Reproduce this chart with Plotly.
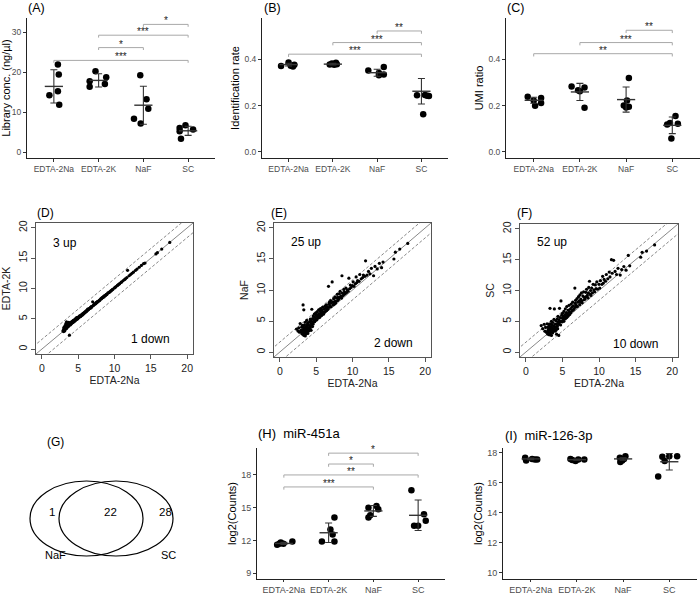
import plotly.graph_objects as go

W, H = 700, 595
FONT = "Liberation Sans, Arial, Helvetica, sans-serif"
TICK_GREY = "#4d4d4d"
AXIS_COL = "#222222"
BRACKET_COL = "#a8a8a8"

groups = ["EDTA-2Na", "EDTA-2K", "NaF", "SC"]

# ---- (A) library concentration (points as plotted, jittered) ----
a_x = [1.09, 1.11, 1.09, 0.90, 1.12, 1.93, 1.80, 2.17, 2.14, 1.80,
       2.93, 3.07, 3.11, 2.79, 2.94, 3.94, 3.81, 4.11, 3.81, 3.84]
a_y = [21.9, 19.4, 15.2, 14.2, 11.8, 20.2, 17.7, 18.7, 17.0, 16.3,
       19.2, 13.2, 10.8, 8.3, 7.1, 6.7, 6.0, 5.6, 5.2, 3.3]
a_mean = [16.4, 17.9, 11.7, 5.3]
a_sd = [4.15, 1.65, 4.75, 1.15]
a_sig = [(3, 4, 31.9, "*"), (2, 4, 29.2, "***"), (2, 3, 26.1, "*"), (1, 4, 22.9, "***")]

# ---- (B) identification rate ----
b_x = [0.83, 1.00, 1.05, 1.10, 1.13, 1.93, 1.98, 2.03, 2.07, 2.09,
       2.80, 3.15, 3.04, 3.04, 3.15, 3.90, 4.08, 4.13, 4.17, 4.04]
b_y = [0.371, 0.386, 0.372, 0.369, 0.376, 0.377, 0.382, 0.376, 0.385, 0.379,
       0.352, 0.367, 0.341, 0.331, 0.334, 0.245, 0.246, 0.243, 0.242, 0.163]
b_mean = [0.377, 0.379, 0.342, 0.262]
b_sd = [0.006, 0.004, 0.015, 0.055]
b_sig = [(3, 4, 0.522, "**"), (2, 4, 0.472, "***"), (1, 4, 0.422, "***")]

# ---- (C) UMI ratio ----
c_x = [0.87, 1.00, 1.03, 1.16, 1.16, 1.82, 1.96, 2.00, 2.10, 2.10,
       3.06, 3.02, 2.95, 3.00, 3.06, 3.89, 3.95, 4.07, 4.12, 3.98]
c_y = [0.238, 0.222, 0.199, 0.233, 0.211, 0.283, 0.266, 0.262, 0.278, 0.191,
       0.319, 0.222, 0.201, 0.192, 0.195, 0.119, 0.125, 0.155, 0.122, 0.058]
c_mean = [0.223, 0.259, 0.226, 0.115]
c_sd = [0.013, 0.037, 0.054, 0.036]
c_sig = [(3, 4, 0.525, "**"), (2, 4, 0.472, "***"), (1, 4, 0.424, "**")]

# ---- (D)-(F) log2 expression, EDTA-2Na vs other tubes ----
sc_x = [2.1, 2.3, 2.5, 2.6, 2.7, 2.8, 2.9, 3.0, 3.0, 3.05,
        3.1, 3.1, 3.15, 3.2, 3.2, 3.25, 3.3, 3.3, 3.3, 3.4,
        3.4, 3.45, 3.5, 3.5, 3.5, 3.55, 3.6, 3.6, 3.65, 3.7,
        3.7, 3.7, 3.8, 3.8, 3.85, 3.9, 3.9, 4.0, 4.0,
        4.1, 4.1, 4.15, 4.2, 4.2, 4.3, 4.3, 4.35, 4.4, 4.4,
        4.5, 4.5, 4.55, 4.6, 4.6, 4.7, 4.75, 4.8, 4.8, 4.9,
        4.95, 5.0, 5.0, 5.1, 5.15, 5.2, 5.2, 5.3, 5.35, 5.4,
        5.4, 5.5, 5.55, 5.6, 5.6, 5.7, 5.75, 5.8, 5.8, 5.9,
        5.95, 6.0,
        6.1, 6.15, 6.2, 6.3, 6.3, 6.4, 6.45, 6.5, 6.6, 6.7,
        6.75, 6.8, 6.8, 6.9, 7.0, 7.05, 7.1, 7.2, 7.3, 7.35,
        7.4, 7.5, 7.5, 7.6, 7.65, 7.7, 7.8, 7.9, 7.95, 8.0,
        8.1, 8.2, 8.25, 8.3, 8.4, 8.5, 8.55, 8.6, 8.7, 8.8,
        8.85, 8.9, 9.0, 9.1, 9.2, 9.3, 9.4, 9.5, 9.6, 9.7,
        9.8, 10.0,
        10.1, 10.2, 10.4, 10.5, 10.6, 10.7, 10.9, 11.0, 11.2, 11.4,
        11.5, 11.7, 11.8, 12.0,
        12.2, 12.4, 12.6, 12.9, 13.1, 13.4, 13.7, 14.0, 14.2,
        15.7, 15.9, 16.5, 17.6]

d_y = [None, None, None, None, None, None, 3.0, 3.3, 2.9, 3.6,
       3.2, 3.5, 3.0, 3.6, 3.9, 3.3, 3.5, 3.8, 4.2, 4.5,
       3.4, 3.7, 3.9, 3.6, 4.1, 3.8, 3.7, 4.0, 3.9, 3.8,
       4.1, 4.4, 2.3, 4.0, 4.1, 4.0, 4.3, 4.1, 4.4,
       4.3, 4.5, 4.3, 4.4, 4.6, 4.4, 4.7, 4.5, 4.6, 4.8,
       4.7, 4.6, 4.8, 4.7, 5.0, 4.9, 5.1, 4.9, 5.2, 5.1,
       5.0, 5.2, 5.3, 5.2, 5.4, 5.3, 5.5, 5.5, 5.4, 5.6,
       5.5, 5.7, 5.6, 5.8, 5.7, 5.9, 5.8, 6.0, 5.9, 6.1,
       6.0, 6.2,
       6.3, 6.2, 6.4, 6.4, 6.6, 6.5, 6.6, 6.7, 6.7, 6.9,
       6.8, 7.0, 6.9, 7.0, 7.8, 7.2, 7.2, 7.4, 7.4, 7.5,
       7.5, 7.7, 7.6, 7.7, 7.8, 7.9, 7.9, 8.0, 8.1, 8.1,
       8.3, 8.3, 8.4, 8.5, 8.5, 8.7, 8.6, 8.8, 8.8, 8.9,
       9.0, 9.0, 9.1, 9.3, 9.3, 9.4, 9.5, 9.6, 9.7, 9.8,
       9.9, 10.1,
       10.2, 10.3, 10.5, 10.6, 10.7, 10.8, 11.0, 11.1, 11.3, 11.5,
       11.6, 11.8, 13.0, 12.1,
       12.3, 12.5, 12.7, 13.0, 13.2, 13.5, 13.8, 14.1, 14.2,
       15.7, 15.9, 16.5, 17.6]

e_y = [None, 3.7, 3.4, 3.9, 3.2, 4.6, 3.5, 3.1, 4.0, 3.3,
       2.9, 4.3, 3.6, 7.6, 3.0, 4.1, 6.8, 3.4, 2.7, 3.8,
       4.4, 3.1, 2.6, 3.6, 4.8, 3.3, 4.0, 2.9, 3.7, 4.2,
       3.2, 5.1, 3.5, 4.5, 3.0, 3.9, 4.7, 3.4, 4.3,
       3.6, 4.9, 4.2, 5.3, 3.9, 4.6, 3.5, 5.0, 6.9, 4.4,
       5.4, 4.1, 4.8, 5.8, 4.5, 5.2, 6.1, 4.9, 5.6, 5.1,
       6.3, 5.4, 5.9, 5.2, 6.5, 5.7, 6.0, 5.5, 6.8, 5.8,
       6.2, 5.6, 6.6, 6.0, 7.0, 6.3, 5.9, 6.7, 6.1, 7.2,
       6.4, 6.1,
       6.9, 6.4, 7.4, 6.6, 7.1, 7.6, 6.7, 7.3, 6.9, 10.6,
       7.7, 7.2, 8.0, 7.5, 8.3, 7.3, 7.9, 11.3, 8.1, 7.6,
       8.6, 8.0, 7.7, 8.9, 8.2, 7.9, 8.7, 9.3, 8.3, 8.8,
       8.5, 9.4, 8.8, 9.8, 9.0, 8.7, 12.3, 9.5, 9.1, 10.1,
       9.3, 9.7, 9.4, 10.3, 9.6, 10.0, 9.8, 11.9, 10.2, 10.8,
       10.4, 10.7,
       11.3, 10.6, 11.0, 12.1, 11.2, 11.5, 11.4, 12.5, 11.8, 12.0,
       12.4, 12.2, 14.7, 12.4,
       13.0, 12.6, 13.5, 12.3, 13.8, 13.4, 14.3, 13.6, 14.5,
       15.0, 16.1, 16.6, 17.5]

f_y = [4.3, 3.8, 4.5, 3.4, 4.0, 3.2, 4.6, 3.5, 2.9, 4.1,
       3.2, 3.8, 4.5, 2.8, 3.6, 4.2, 3.0, 3.9, 7.1, 3.3,
       4.6, 3.6, 2.7, 4.0, 5.0, 3.4, 3.8, 4.4, 3.1, 3.7,
       4.8, 3.3, 4.2, 3.6, 5.3, 7.0, 3.9, 3.4, 4.5,
       4.0, 5.1, 3.6, 4.6, 2.9, 5.4, 4.2, 3.8, 4.9, 5.8,
       2.7, 4.5, 5.2, 7.1, 4.8, 5.6, 4.4, 8.3, 5.0, 6.0,
       4.9, 5.5, 6.3, 5.2, 5.8, 6.6, 5.0, 5.7, 6.1, 5.4,
       7.0, 5.9, 6.4, 5.6, 7.4, 6.2, 5.8, 6.8, 6.0, 7.6,
       6.5, 6.1,
       7.0, 6.4, 7.8, 6.7, 7.3, 8.1, 6.8, 7.5, 7.0, 10.4,
       7.9, 7.3, 8.4, 7.6, 8.7, 7.4, 8.1, 9.0, 8.3, 7.7,
       9.3, 8.1, 8.6, 9.6, 8.3, 8.0, 9.1, 9.8, 8.5, 8.9,
       8.6, 9.7, 9.0, 10.2, 9.2, 8.8, 9.6, 10.5, 11.5, 9.4,
       10.0, 9.2, 10.4, 9.6, 11.0, 10.1, 9.8, 10.9, 10.3, 11.4,
       10.2, 11.0,
       10.4, 11.6, 11.0, 12.3, 11.2, 11.8, 11.5, 12.6, 11.9, 13.0,
       12.2, 15.0, 12.8, 14.9,
       13.1, 12.6, 13.6, 12.5, 13.4, 13.9, 13.3, 15.7, 14.0,
       15.4, 16.2, 16.4, 17.4]

up_counts = [3, 25, 52]
down_counts = [1, 2, 10]
fc_line = 1.6  # dashed fold-change guides

# ---- (G) overlap of changed miRNAs ----
venn_sets = ["NaF", "SC"]
venn_counts = [1, 22, 28]  # NaF only, both, SC only

# ---- (H) miR-451a ----
h_x = [0.85, 0.93, 0.99, 1.19, 0.90, 1.85, 2.13, 2.04, 2.09, 2.13,
       2.89, 3.07, 3.11, 2.93, 2.89, 3.85, 4.13, 4.17, 3.91, 4.00]
h_y = [11.6, 11.8, 11.7, 11.9, 11.7, 11.9, 11.9, 13.0, 12.55, 14.1,
       15.0, 15.15, 14.85, 14.3, 14.1, 16.6, 14.4, 13.8, 13.35, 13.35]
h_mean = [11.72, 12.7, 14.7, 14.3]
h_sd = [0.1, 0.9, 0.5, 1.4]
h_sig = [(2, 4, 20.0, "*"), (2, 3, 19.0, "*"), (1, 4, 18.0, "**"), (1, 3, 16.9, "***")]

# ---- (I) miR-126-3p ----
i_x = [0.88, 0.90, 1.03, 1.09, 1.14, 1.86, 1.90, 1.97, 2.03, 2.16,
       2.93, 2.98, 3.02, 2.94, 3.05, 3.85, 3.90, 4.00, 4.17, 3.76]
i_y = [17.67, 17.5, 17.6, 17.56, 17.56, 17.6, 17.52, 17.46, 17.56, 17.56,
       17.67, 17.5, 17.6, 17.4, 17.78, 17.74, 17.46, 17.78, 17.78, 16.43]
i_mean = [17.6, 17.55, 17.6, 17.41]
i_sd = [0.05, 0.04, 0.08, 0.55]


def xdom(left, right):
    return [left / W, right / W]


def ydom(top, bottom):
    return [1 - bottom / H, 1 - top / H]


def names(n):
    s = "" if n == 1 else str(n)
    return "x" + s, "y" + s, "xaxis" + s, "yaxis" + s


fig = go.Figure()


def dot_panel(n, box, xs, ys, means, sds, sig, yrange, yticks, ylabel, drop, fmt=None, fs=8.5, tl=3):
    xa, ya, xk, yk = names(n)
    fig.add_trace(go.Scatter(x=xs, y=ys, mode="markers", xaxis=xa, yaxis=ya,
                             marker=dict(size=6.5, color="black"), hoverinfo="skip"))
    fig.add_trace(go.Scatter(x=[1, 2, 3, 4], y=means, mode="markers", xaxis=xa, yaxis=ya,
                             marker=dict(symbol="line-ew", size=13, line=dict(width=1.4, color="#333333")),
                             error_y=dict(type="data", array=sds, width=3.5, thickness=1.1, color="#333333"),
                             hoverinfo="skip"))
    for i, j, h, lab in sig:
        fig.add_trace(go.Scatter(x=[i, i, j, j], y=[h - drop, h, h, h - drop], mode="lines",
                                 xaxis=xa, yaxis=ya, line=dict(color=BRACKET_COL, width=1), hoverinfo="skip"))
        fig.add_annotation(x=(i + j) / 2, y=h, xref=xa, yref=ya, text=lab, showarrow=False,
                           yanchor="bottom", yshift=-4, font=dict(size=10, color="#222222"))
    fig.update_layout(**{
        xk: dict(domain=xdom(box[0], box[1]), anchor=ya, range=[0.4, 4.6], tickmode="array",
                 tickvals=[1, 2, 3, 4], ticktext=groups, showline=True, linecolor=AXIS_COL, linewidth=1,
                 ticks="outside", ticklen=tl, tickcolor="#333333", tickfont=dict(size=fs, color=TICK_GREY),
                 showgrid=False, zeroline=False, automargin=False),
        yk: dict(domain=ydom(box[2], box[3]), anchor=xa, range=yrange, tickmode="array", tickvals=yticks,
                 tickformat=fmt, showline=True, linecolor=AXIS_COL, linewidth=1, ticks="outside", ticklen=3,
                 tickcolor="#333333", tickfont=dict(size=fs, color=TICK_GREY), showgrid=False, zeroline=False,
                 automargin=False,
                 title=dict(text=ylabel, font=dict(size=11, color="black"), standoff=2)),
    })


def scatter_panel(n, box, ys, ylabel, up, down, up_at, down_at):
    xa, ya, xk, yk = names(n)
    lim = [-0.8, 20.8]
    ext = [lim[0] - 3, lim[1] + 3]
    for off, dash in [(0, "solid"), (fc_line, "3px,2px"), (-fc_line, "3px,2px")]:
        fig.add_trace(go.Scatter(x=ext, y=[ext[0] + off, ext[1] + off], mode="lines", xaxis=xa, yaxis=ya,
                                 line=dict(color="#7a7a7a", width=0.9, dash=dash), hoverinfo="skip"))
    fig.add_trace(go.Scatter(x=sc_x, y=ys, mode="markers", xaxis=xa, yaxis=ya,
                             marker=dict(size=3.2, color="black"), hoverinfo="skip"))
    fig.add_annotation(x=up_at[0], y=up_at[1], xref=xa, yref=ya, text=f"{up} up", showarrow=False,
                       font=dict(size=12, color="black"))
    fig.add_annotation(x=down_at[0], y=down_at[1], xref=xa, yref=ya, text=f"{down} down", showarrow=False,
                       font=dict(size=12, color="black"))
    common = dict(range=lim, tickmode="array", tickvals=[0, 5, 10, 15, 20], showline=True, mirror=True,
                  linecolor="#555555", linewidth=1, ticks="outside", ticklen=4, tickcolor="#555555",
                  tickfont=dict(size=10.5, color="#222222"), showgrid=False, zeroline=False, automargin=False)
    fig.update_layout(**{
        xk: dict(domain=xdom(box[0], box[1]), anchor=ya,
                 title=dict(text="EDTA-2Na", font=dict(size=10.5, color="#222222"), standoff=4), **common),
        yk: dict(domain=ydom(box[2], box[3]), anchor=xa, tickangle=-90,
                 title=dict(text=ylabel, font=dict(size=10.5, color="#222222"), standoff=4), **common),
    })


dot_panel(1, (27, 215, 18, 158), a_x, a_y, a_mean, a_sd, a_sig, [-1.5, 33.5], [0, 10, 20, 30],
          "Library conc. (ng/µl)", 0.6)
dot_panel(2, (262, 448, 18, 158), b_x, b_y, b_mean, b_sd, b_sig, [-0.026, 0.578], [0.0, 0.2, 0.4],
          "Identification rate", 0.012, fmt=".1f")
dot_panel(3, (506, 700, 18, 158), c_x, c_y, c_mean, c_sd, c_sig, [-0.026, 0.578], [0.0, 0.2, 0.4],
          "UMI ratio", 0.012, fmt=".1f")

scatter_panel(4, (36, 193, 223, 354), d_y, "EDTA-2K", up_counts[0], down_counts[0], (3.2, 17.5), (14.9, 1.7))
scatter_panel(5, (274, 431, 223, 357), e_y, "NaF", up_counts[1], down_counts[1], (3.6, 17.8), (15.6, 1.4))
scatter_panel(6, (520, 678, 224, 357), f_y, "SC", up_counts[2], down_counts[2], (3.6, 17.9), (15.0, 1.3))

dot_panel(7, (257, 445, 448, 579), h_x, h_y, h_mean, h_sd, h_sig, [8.46, 20.47], [9, 12, 15, 18],
          "log2(Counts)", 0.25, fs=9, tl=2)
dot_panel(8, (503, 697, 448, 579), i_x, i_y, i_mean, i_sd, [], [9.56, 18.33], [10, 12, 14, 16, 18],
          "log2(Counts)", 0.2, fs=9, tl=2)

# venn diagram for (G)
for x0, x1 in [(30, 143), (59, 173)]:
    fig.add_shape(type="circle", xref="paper", yref="paper", x0=x0 / W, x1=x1 / W,
                  y0=1 - 556 / H, y1=1 - 481 / H, line=dict(color="black", width=1.2))
for (px, py), cnt in zip([(47, 520), (102, 520), (157, 520)], venn_counts):
    fig.add_annotation(x=px / W, y=1 - py / H, xref="paper", yref="paper", text=str(cnt),
                       showarrow=False, font=dict(size=11.5, color="black"))
for (px, py), lab in zip([(43, 563), (159, 563)], venn_sets):
    fig.add_annotation(x=px / W, y=1 - py / H, xref="paper", yref="paper", text=lab,
                       showarrow=False, font=dict(size=11, color="black"))

# panel letters
titles = [("(A)", 26, 8, 12.5), ("(B)", 262, 8, 12.5), ("(C)", 505, 8, 12.5),
          ("(D)", 35, 213, 12), ("(E)", 269, 213, 12), ("(F)", 515, 213, 12),
          ("(G)", 45, 442, 12),
          ("(H)\u00a0\u00a0miR-451a", 256, 433, 13), ("(I)\u00a0\u00a0miR-126-3p", 503, 435, 13)]
for txt, px, py, fs in titles:
    fig.add_annotation(x=px / W, y=1 - py / H, xref="paper", yref="paper", text=txt, showarrow=False,
                       xanchor="left", yanchor="middle", font=dict(size=fs, color="black"))

fig.update_layout(width=W, height=H, margin=dict(l=0, r=0, t=0, b=0, autoexpand=False), showlegend=False,
                  paper_bgcolor="white", plot_bgcolor="white", font=dict(family=FONT, color="black"))

# the page body has a default margin; drop it so the figure fills the window exactly
fig.write_html("out.html", config={"displayModeBar": False},
               post_script="document.body.style.margin = '0px';")
